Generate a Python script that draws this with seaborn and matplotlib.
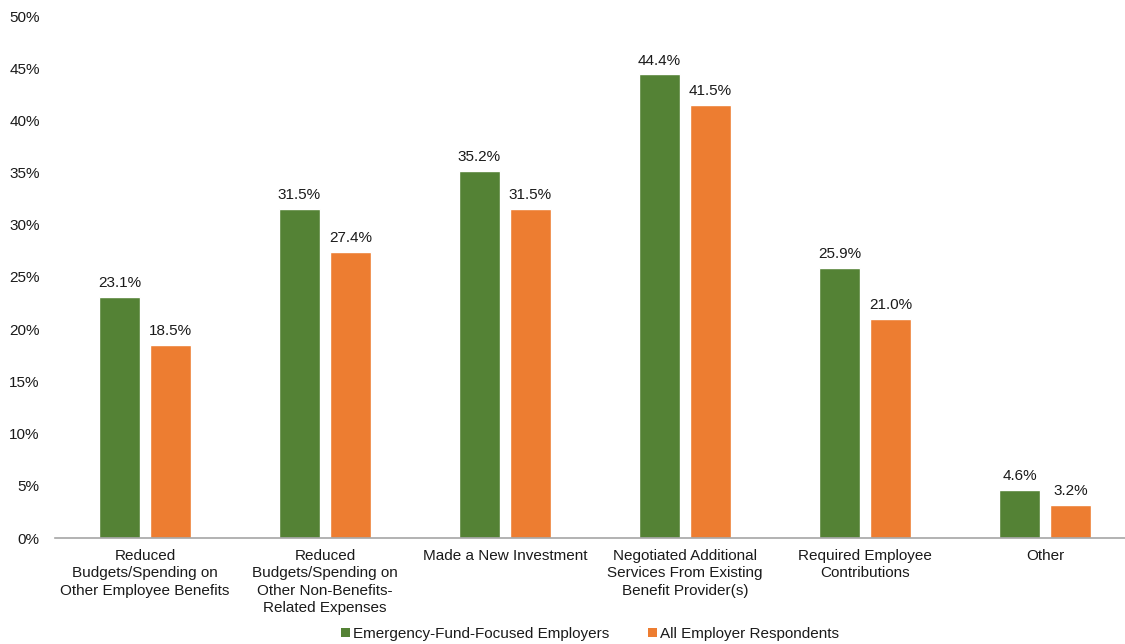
import matplotlib
matplotlib.use("Agg")
import matplotlib.pyplot as plt
import seaborn as sns
import pandas as pd
from matplotlib.patches import Patch

categories = [
    "Reduced\nBudgets/Spending on\nOther Employee Benefits",
    "Reduced\nBudgets/Spending on\nOther Non-Benefits-\nRelated Expenses",
    "Made a New Investment",
    "Negotiated Additional\nServices From Existing\nBenefit Provider(s)",
    "Required Employee\nContributions",
    "Other",
]
series_names = ["Emergency-Fund-Focused Employers", "All Employer Respondents"]
emergency_focused = [23.1, 31.5, 35.2, 44.4, 25.9, 4.6]
all_respondents = [18.5, 27.4, 31.5, 41.5, 21.0, 3.2]
y_ticks = [0, 5, 10, 15, 20, 25, 30, 35, 40, 45, 50]

colors = ["#548235", "#ED7D31"]

df = pd.DataFrame({
    "category": categories * 2,
    "series": [series_names[0]] * len(categories) + [series_names[1]] * len(categories),
    "value": emergency_focused + all_respondents,
})

sns.set_theme(style="white")
plt.rcParams["font.family"] = ["Liberation Sans", "DejaVu Sans"]

fig = plt.figure(figsize=(11.25, 6.44), dpi=100)
ax = fig.add_axes([55 / 1125, 106 / 644, 1080 / 1125, 522 / 644])

sns.barplot(
    data=df, x="category", y="value", hue="series",
    hue_order=series_names, order=categories, palette=colors,
    width=0.567, gap=0.2, saturation=1, legend=False, ax=ax,
)

for container in ax.containers:
    ax.bar_label(container, labels=[f"{v:.1f}%" for v in container.datavalues],
                 padding=5, fontsize=11, color="#1a1a1a")

ax.set_ylim(0, 50)
ax.set_xlim(-0.5, 5.5)
ax.set_yticks(y_ticks)
ax.set_yticklabels([f"{t}%" for t in y_ticks], fontsize=11, color="#1a1a1a")
ax.set_xticks(range(len(categories)))
ax.set_xticklabels(categories, fontsize=11, color="#1a1a1a", linespacing=1.3, va="top")
ax.tick_params(axis="x", length=0, pad=8)
ax.tick_params(axis="y", length=0, pad=11)
ax.set_xlabel("")
ax.set_ylabel("")

for side in ["top", "right", "left"]:
    ax.spines[side].set_visible(False)
ax.spines["bottom"].set_color("#a6a6a6")
ax.spines["bottom"].set_linewidth(1.2)

handles = [Patch(facecolor=c, edgecolor="none") for c in colors]
fig.legend(handles, series_names, loc="center", bbox_to_anchor=(590 / 1125, 10 / 644),
           ncol=2, frameon=False, fontsize=11, handlelength=0.6, handleheight=0.6,
           handletextpad=0.2, columnspacing=2.5, labelcolor="#1a1a1a")

fig.savefig("out.png", dpi=100)
